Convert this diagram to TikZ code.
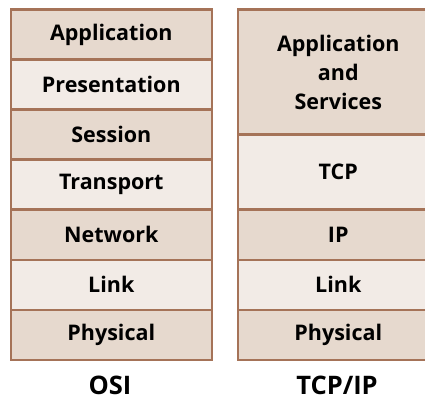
\documentclass[tikz,border=0pt]{standalone}
\usepackage{fontspec}
\setmainfont{Open Sans}
\definecolor{dark}{HTML}{E6D9CE}
\definecolor{light}{HTML}{F2EBE6}
\definecolor{edge}{HTML}{A57358}
\begin{document}
\begin{tikzpicture}[x=1pt,y=-1pt,
  layer/.style={draw=edge,line width=2.6pt,minimum width=201pt,inner sep=0pt,
    font=\fontsize{21.5}{29}\selectfont\bfseries,align=center,anchor=north west},
  darkbox/.style={layer,fill=dark},
  lightbox/.style={layer,fill=light},
  caption/.style={font=\fontsize{25.5}{30}\selectfont\bfseries}]
\useasboundingbox (0,0) rectangle (425,403);
\clip (0,0) rectangle (425,403);
% OSI
\node[darkbox,minimum height=50pt] (app) at (9.5,8.5) {Application};
\node[lightbox,minimum height=50pt] (pres) at (9.5,58.5) {Presentation};
\node[darkbox,minimum height=50pt] (sess) at (9.5,108.5) {Session};
\node[lightbox,minimum height=50pt] (trans) at (9.5,158.5) {Transport};
\node[darkbox,minimum height=50pt] (net) at (9.5,208.5) {Network};
\node[lightbox,minimum height=50pt] (link) at (9.5,258.5) {Link};
\node[darkbox,minimum height=50pt] (phys) at (9.5,308.5) {Physical};
% TCP/IP
\node[darkbox,minimum height=125pt] (tapp) at (236.5,8.5) {Application\\and\\Services};
\node[lightbox,minimum height=75pt] (ttcp) at (236.5,133.5) {TCP};
\node[darkbox,minimum height=50pt] (tip) at (236.5,208.5) {IP};
\node[lightbox,minimum height=50pt] (tlink) at (236.5,258.5) {Link};
\node[darkbox,minimum height=50pt] (tphys) at (236.5,308.5) {Physical};
% captions
\node[caption] (osi) at (110,385) {OSI};
\node[caption] (tcpip) at (337,385) {TCP/IP};
\end{tikzpicture}
\end{document}
